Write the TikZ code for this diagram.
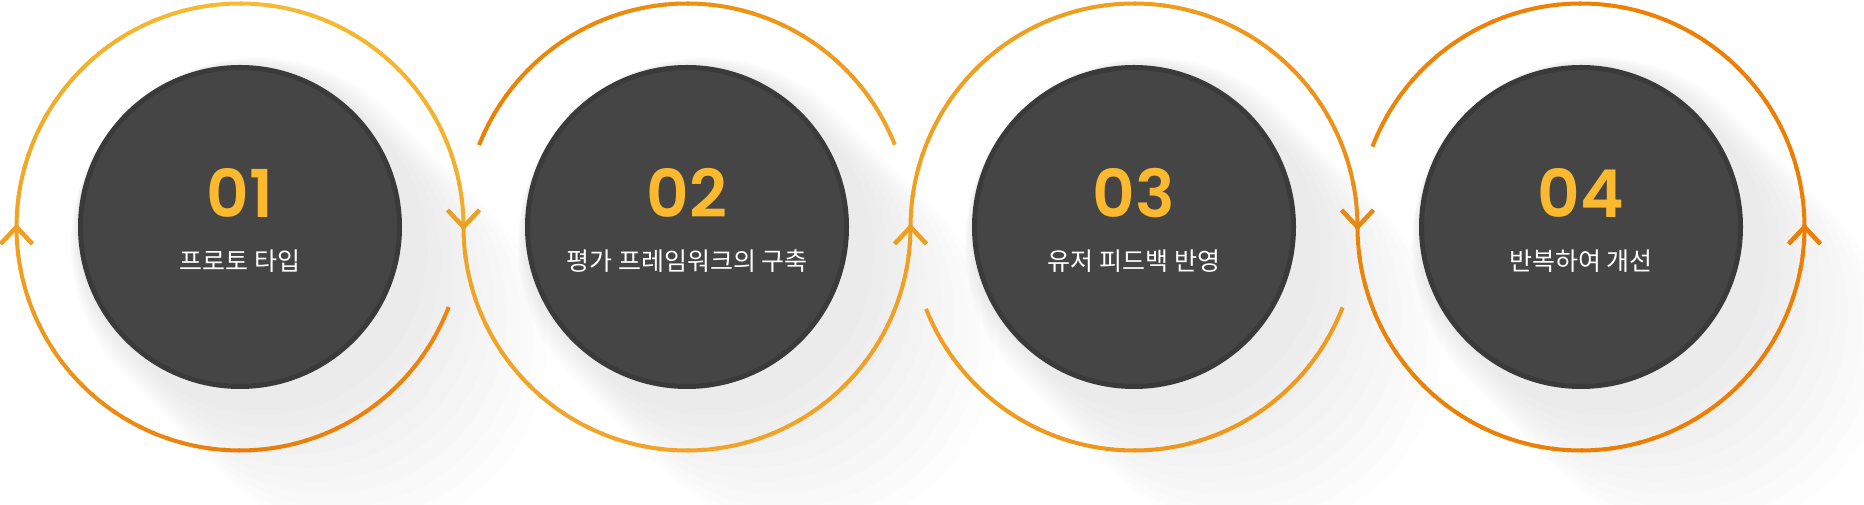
\documentclass[tikz,border=0pt]{standalone}
\usepackage{fontspec}
\newfontfamily\numfont{Poppins}[UprightFont=* SemiBold]
\newfontfamily\krfont{Noto Sans CJK KR}
\definecolor{dkfill}{HTML}{444544}
\definecolor{dkedge}{HTML}{393A39}
\definecolor{numcol}{HTML}{FBB92F}
\definecolor{ca}{HTML}{EC8612}
\definecolor{cb}{HTML}{EA7D08}
\definecolor{cc}{HTML}{F1A322}
\definecolor{cd}{HTML}{F6BC33}
\definecolor{ce}{HTML}{F2AD2A}
\definecolor{cf}{HTML}{F0A426}
\definecolor{cg}{HTML}{F2A428}
\definecolor{ch}{HTML}{EEA024}
\definecolor{ci}{HTML}{EC7F02}
\definecolor{cj}{HTML}{EE8E0C}
\definecolor{ck}{HTML}{F0A42A}
\definecolor{cl}{HTML}{F0A020}
\definecolor{cm}{HTML}{F09E1E}
\definecolor{cn}{HTML}{EC8C14}
\definecolor{co}{HTML}{EE961A}
\definecolor{cp}{HTML}{EF9C1F}
\definecolor{cq}{HTML}{EC840A}
\definecolor{cr}{HTML}{EC7E04}
\definecolor{cs}{HTML}{EE7E02}
\definecolor{ct}{HTML}{EE8004}
\definecolor{cu}{HTML}{EE8406}
\definecolor{ar1}{HTML}{EFA022}
\definecolor{ar2}{HTML}{E9A023}
\definecolor{ar3}{HTML}{EBA024}
\definecolor{ar4}{HTML}{E48A14}
\definecolor{ar5}{HTML}{EA7E06}
\def\RR{223.5}
\newcommand\garc[5]{%
  \foreach \gk in {0,...,23}{%
    \pgfmathsetmacro\ga{#2+(#3-#2)*\gk/24}%
    \pgfmathsetmacro\gb{#2+(#3-#2)*(\gk+1.15)/24}%
    \pgfmathtruncatemacro\gt{100-100*(\gk+0.5)/24}%
    \draw[ring,draw=#4!\gt!#5] ([shift={(\ga:\RR)}]#1) arc[start angle=\ga, end angle=\gb, radius=\RR];
  }}
\newcommand\longshadow[1]{%
  \begin{scope}[shift={(#1)}, rotate=-45]
  \foreach \sj in {1,...,10}{%
    \pgfmathsetmacro\rj{162+2.6*\sj}%
    \pgfmathsetmacro\dj{2.6*\sj}%
    \pgfmathsetmacro\lj{18+15*\sj}%
    \fill[black, opacity=0.0078] (\dj,\rj) arc[start angle=90, end angle=270, radius=\rj] -- (\lj,-\rj) arc[start angle=-90, end angle=90, radius=\rj] -- cycle;
  }
  \end{scope}}
\begin{document}
\begin{tikzpicture}[x=1pt,y=1pt,
  ring/.style={line width=4, line cap=butt},
  chevron/.style={line width=4.5, line cap=butt, line join=miter},
  darkdisc/.style={circle, inner sep=0, minimum size=319, fill=dkfill, draw=dkedge, line width=5},
  numlabel/.style={inner sep=0, text=numcol, font=\numfont\fontsize{66}{66}\selectfont, anchor=base},
  krlabel/.style={inner sep=0, text=white, font=\krfont\fontsize{25}{25}\selectfont, anchor=base}]
\fill[white] (0,0) rectangle (1864,505);
\useasboundingbox (0,0) rectangle (1864,505);
\coordinate (c1) at (240,278);
\coordinate (c2) at (687,278);
\coordinate (c3) at (1134,278);
\coordinate (c4) at (1581,278);
% long shadows
\longshadow{c1}
\longshadow{c2}
\longshadow{c3}
\longshadow{c4}
% ring 1
\garc{c1}{-21}{-90}{ca}{cb}
\garc{c1}{-90}{-180}{cb}{cc}
\garc{c1}{-180}{-270}{cc}{cd}
\garc{c1}{-270}{-360}{cd}{ce}
% ring 2
\garc{c2}{180}{270}{cf}{cg}
\garc{c2}{270}{360}{cg}{ch}
\garc{c2}{158.5}{90}{ci}{cj}
\garc{c2}{90}{22}{cj}{ck}
% ring 3
\garc{c3}{180}{90}{cl}{cm}
\garc{c3}{90}{0}{cm}{cn}
\garc{c3}{201.5}{270}{cl}{co}
\garc{c3}{270}{338.5}{co}{cp}
% ring 4
\garc{c4}{180}{270}{cq}{cr}
\garc{c4}{270}{360}{cr}{cs}
\garc{c4}{360}{450}{cs}{ct}
\garc{c4}{450}{518.5}{ct}{cu}
% arrowheads
\coordinate (t1) at ([shift={(-\RR,0)}]c1);
\coordinate (t2) at ([shift={(\RR,0)}]c1);
\coordinate (t3) at ([shift={(\RR,0)}]c2);
\coordinate (t4) at ([shift={(\RR,0)}]c3);
\coordinate (t5) at ([shift={(\RR,0)}]c4);
\draw[chevron, ar1] ([shift={(-16,-17)}]t1) -- (t1) -- ([shift={(16,-17)}]t1);
\draw[chevron, ar2] ([shift={(-16,17)}]t2) -- (t2) -- ([shift={(16,17)}]t2);
\draw[chevron, ar3] ([shift={(-16,-17)}]t3) -- (t3) -- ([shift={(16,-17)}]t3);
\draw[chevron, ar4] ([shift={(-16,17)}]t4) -- (t4) -- ([shift={(16,17)}]t4);
\draw[chevron, ar5] ([shift={(-16,-17)}]t5) -- (t5) -- ([shift={(16,-17)}]t5);
% discs
\node[darkdisc] (d1) at (c1) {};
\node[darkdisc] (d2) at (c2) {};
\node[darkdisc] (d3) at (c3) {};
\node[darkdisc] (d4) at (c4) {};
% labels
\node[numlabel] (n1) at ([shift={(0,9)}]c1) {01};
\node[numlabel] (n2) at ([shift={(0,9)}]c2) {02};
\node[numlabel] (n3) at ([shift={(0,9)}]c3) {03};
\node[numlabel] (n4) at ([shift={(0,9)}]c4) {04};
\node[krlabel] (k1) at ([shift={(0,-44)}]c1) {프로토 타입};
\node[krlabel] (k2) at ([shift={(0,-44)}]c2) {평가 프레임워크의 구축};
\node[krlabel] (k3) at ([shift={(0,-44)}]c3) {유저 피드백 반영};
\node[krlabel] (k4) at ([shift={(0,-44)}]c4) {반복하여 개선};
\end{tikzpicture}
\end{document}
